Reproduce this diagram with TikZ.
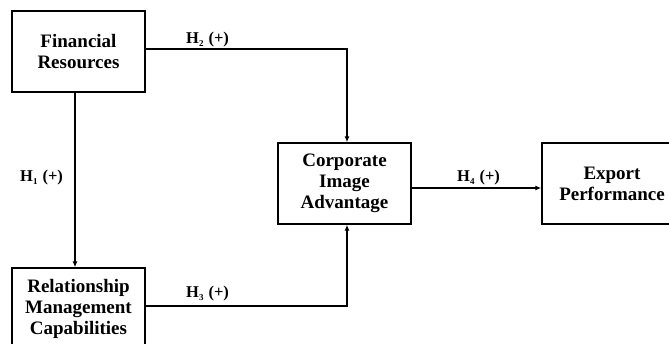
\documentclass[tikz,border=0pt]{standalone}
\usepackage{fontspec}
\setmainfont{Liberation Serif}
\usetikzlibrary{arrows.meta}
\begin{document}
\begin{tikzpicture}[x=1pt,y=-1pt,
  box/.style={draw,line width=1.4pt,minimum width=133pt,minimum height=81pt,inner sep=0pt,align=center,font=\bfseries\fontsize{19}{21}\selectfont},
  conn/.style={line width=1.3pt,-{Latex[length=6pt,width=5pt]}},
  hlab/.style={anchor=base west,inner sep=0pt,font=\bfseries\fontsize{16.5}{16.5}\selectfont}]
\useasboundingbox (0,0) rectangle (669,343);
\fill[white] (0,0) rectangle (669,343);
\node[box] (fin) at (78.5,51.5) {Financial\\Resources};
\node[box] (rel) at (78.5,308.5) {Relationship\\Management\\Capabilities};
\node[box] (corp) at (344.5,183.5) {Corporate\\Image\\Advantage};
\node[box,minimum width=140pt] (exp) at (612,183.5) {Export\\Performance};
\coordinate (c1) at (347,49);
\coordinate (c2) at (347,306);
\draw[conn] (fin.east |- c1) -- (c1) -- (c1 |- corp.north);
\draw[conn] (75,92) coordinate (f1) -- (f1 |- rel.north);
\draw[conn] (rel.east |- c2) -- (c2) -- (c2 |- corp.south);
\draw[conn] (corp.east |- 0,188) coordinate (e1) -- (e1 -| exp.west);
\newcommand{\hsub}[1]{H\raisebox{-3.5pt}{\fontsize{9}{9}\selectfont #1}\hspace{5pt}(+)}
\node[hlab] (h2) at (186,43) {\hsub{2}};
\node[hlab] (h1) at (20,181) {\hsub{1}};
\node[hlab] (h3) at (186,297) {\hsub{3}};
\node[hlab] (h4) at (457,181) {\hsub{4}};
\end{tikzpicture}
\end{document}
